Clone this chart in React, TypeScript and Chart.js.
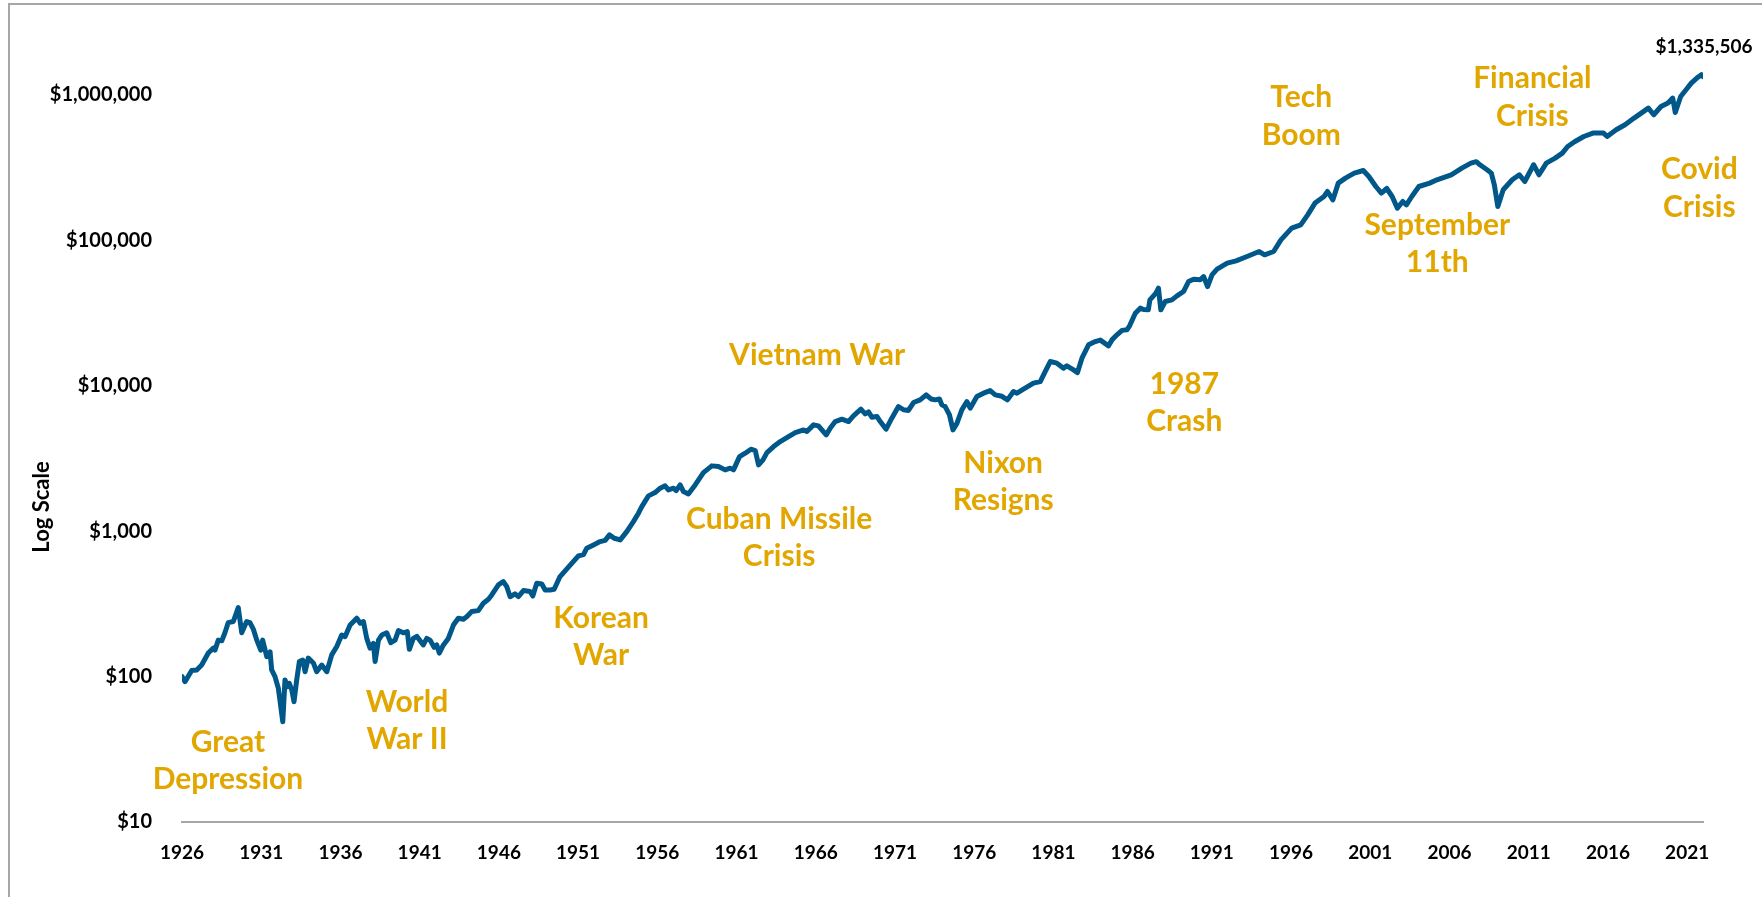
import React, { useEffect, useRef } from 'react';
import { Chart, registerables } from 'chart.js';

Chart.register(...registerables);

const years = [
  1926.00, 1926.19, 1926.61, 1926.93, 1927.24, 1927.66, 1927.98, 1928.08, 1928.29, 1928.51,
  1928.71, 1928.92, 1929.24, 1929.55, 1929.77, 1930.08, 1930.29, 1930.50, 1930.72, 1930.97,
  1931.09, 1931.35, 1931.56, 1931.66, 1931.87, 1932.08, 1932.36, 1932.50, 1932.65, 1932.77,
  1932.93, 1933.07, 1933.24, 1933.41, 1933.62, 1933.77, 1933.97, 1934.29, 1934.50, 1934.82,
  1935.14, 1935.45, 1935.77, 1936.08, 1936.29, 1936.61, 1937.03, 1937.24, 1937.45, 1937.66,
  1937.87, 1938.08, 1938.19, 1938.40, 1938.61, 1938.92, 1939.18, 1939.45, 1939.66, 1939.97,
  1940.22, 1940.35, 1940.60, 1940.82, 1941.23, 1941.45, 1941.66, 1941.91, 1942.08, 1942.24,
  1942.50, 1942.81, 1943.13, 1943.44, 1943.76, 1943.97, 1944.29, 1944.70, 1945.02, 1945.34,
  1945.55, 1945.97, 1946.28, 1946.50, 1946.71, 1947.02, 1947.23, 1947.55, 1947.97, 1948.14,
  1948.39, 1948.71, 1948.92, 1949.23, 1949.49, 1949.86, 1950.39, 1951.02, 1951.34, 1951.55,
  1951.97, 1952.39, 1952.71, 1952.98, 1953.28, 1953.66, 1954.07, 1954.49, 1954.81, 1955.02,
  1955.44, 1955.86, 1956.18, 1956.49, 1956.70, 1957.02, 1957.19, 1957.44, 1957.65, 1957.96,
  1958.39, 1958.91, 1959.44, 1959.86, 1960.28, 1960.60, 1960.81, 1961.19, 1961.55, 1961.91,
  1962.18, 1962.39, 1962.67, 1962.92, 1963.34, 1963.76, 1964.28, 1964.71, 1965.23, 1965.44,
  1965.86, 1966.17, 1966.66, 1966.91, 1967.23, 1967.65, 1968.07, 1968.38, 1968.85, 1969.12,
  1969.33, 1969.54, 1969.86, 1970.07, 1970.44, 1970.80, 1971.22, 1971.54, 1971.85, 1972.17,
  1972.59, 1972.97, 1973.27, 1973.54, 1973.81, 1973.96, 1974.17, 1974.44, 1974.66, 1974.91,
  1975.22, 1975.54, 1975.75, 1976.17, 1976.59, 1977.01, 1977.33, 1977.75, 1978.10, 1978.48,
  1978.70, 1979.11, 1979.74, 1980.17, 1980.48, 1980.80, 1981.22, 1981.64, 1981.85, 1982.27,
  1982.52, 1982.80, 1983.22, 1983.64, 1983.96, 1984.48, 1984.71, 1985.01, 1985.33, 1985.64,
  1985.81, 1986.17, 1986.48, 1986.69, 1986.99, 1987.09, 1987.47, 1987.63, 1987.78, 1988.06,
  1988.48, 1988.80, 1989.21, 1989.53, 1989.85, 1990.27, 1990.48, 1990.73, 1991.01, 1991.33,
  1991.97, 1992.53, 1993.22, 1993.99, 1994.33, 1994.90, 1995.36, 1996.04, 1996.61, 1997.05,
  1997.51, 1998.08, 1998.30, 1998.64, 1998.98, 1999.43, 1999.99, 2000.56, 2000.91, 2001.35,
  2001.70, 2002.04, 2002.38, 2002.71, 2003.05, 2003.28, 2003.62, 2004.07, 2004.75, 2005.21,
  2006.11, 2006.78, 2007.35, 2007.69, 2007.92, 2008.37, 2008.64, 2008.83, 2009.05, 2009.39,
  2009.96, 2010.41, 2010.75, 2011.31, 2011.65, 2012.11, 2012.67, 2013.12, 2013.46, 2013.92,
  2014.48, 2015.05, 2015.72, 2015.95, 2016.52, 2017.08, 2017.65, 2018.10, 2018.55, 2018.89,
  2019.35, 2019.79, 2020.09, 2020.25, 2020.59, 2020.93, 2021.26, 2021.61, 2021.90, 2022.00,
];

const values = [
  100, 92.2, 110, 111, 120, 145, 157, 152, 178, 176,
  200, 235, 239, 298, 200, 239, 235, 212, 178, 152,
  178, 137, 148, 111, 99.8, 83.1, 48.9, 94.8, 85.2, 89.9,
  80.9, 67.2, 94.8, 127, 130, 108, 134, 124, 108, 120,
  108, 141, 161, 193, 188, 226, 252, 233, 239, 183,
  157, 169, 127, 178, 193, 200, 171, 178, 207, 200,
  204, 154, 183, 189, 165, 183, 178, 159, 165, 145,
  165, 183, 226, 252, 248, 258, 280, 284, 319, 340,
  364, 427, 450, 415, 354, 370, 354, 390, 384, 358,
  438, 433, 394, 394, 398, 487, 565, 675, 690, 763,
  804, 847, 864, 942, 893, 870, 992, 1162, 1328, 1474,
  1747, 1840, 1972, 2047, 1920, 1972, 1900, 2078, 1869, 1802,
  2078, 2526, 2809, 2780, 2636, 2710, 2636, 3253, 3434, 3659,
  3580, 2853, 3090, 3467, 3813, 4126, 4466, 4758, 4966, 4840,
  5377, 5290, 4588, 5103, 5665, 5884, 5665, 6199, 6892, 6400,
  6600, 6073, 6140, 5665, 5021, 5978, 7183, 6830, 6760, 7654,
  7988, 8645, 8100, 7988, 8100, 7379, 7183, 6298, 4966, 5500,
  6818, 7775, 7000, 8414, 8880, 9254, 8645, 8450, 7988, 9108,
  8880, 9461, 10404, 10660, 12502, 14652, 14280, 13196, 13700, 12844,
  12300, 15458, 19082, 20111, 20580, 18780, 20730, 22360, 24000, 24200,
  25800, 31520, 34120, 33400, 33210, 38910, 43270, 46840, 33210, 37880,
  38910, 41460, 44390, 52000, 54000, 53500, 56280, 48030, 57810, 63270,
  69570, 72200, 77240, 83620, 79350, 83620, 100600, 121100, 127600, 149500,
  180000, 199800, 216300, 189700, 247000, 267400, 289400, 301600, 274200, 234100,
  210800, 226800, 199800, 166300, 184600, 175200, 199800, 234100, 247000, 260300,
  281800, 313200, 339100, 347000, 330100, 305000, 289400, 240400, 170500, 222200,
  260300, 281800, 253400, 330100, 281800, 339100, 367100, 397200, 441000, 477200,
  516700, 545300, 545300, 516700, 574600, 621900, 691500, 748400, 810100, 728800,
  830900, 876900, 949100, 755600, 973400, 1082000, 1203000, 1303000, 1375000, 1335506,
];

const xTickYears = [
  1926, 1931, 1936, 1941, 1946, 1951, 1956, 1961, 1966, 1971,
  1976, 1981, 1986, 1991, 1996, 2001, 2006, 2011, 2016, 2021,
];

const yTickValues = [10, 100, 1000, 10000, 100000, 1000000];

const endLabel = '$1,335,506';
const axisTitle = 'Log Scale';

// annotation text blocks anchored in data coordinates (centre of the first line)
const eventLabels = [
  { lines: ['Great', 'Depression'], year: 1928.9, value: 35.5 },
  { lines: ['World', 'War II'], year: 1940.2, value: 66.9 },
  { lines: ['Korean', 'War'], year: 1952.45, value: 253 },
  { lines: ['Vietnam War'], year: 1966.09, value: 16290 },
  { lines: ['Cuban Missile', 'Crisis'], year: 1963.69, value: 1213 },
  { lines: ['Nixon', 'Resigns'], year: 1977.83, value: 2944 },
  { lines: ['1987', 'Crash'], year: 1989.26, value: 10290 },
  { lines: ['Tech', 'Boom'], year: 1996.64, value: 953600 },
  { lines: ['September', '11th'], year: 2005.23, value: 127600 },
  { lines: ['Financial', 'Crisis'], year: 2011.23, value: 1288000 },
  { lines: ['Covid', 'Crisis'], year: 2021.77, value: 305000 },
];

const FONT = 'Lato, "Open Sans", "DejaVu Sans", sans-serif';
const GOLD = '#E1A600';
const LINE_BLUE = '#00588A';
const FRAME_GRAY = '#A6A6A6';

const decorPlugin = {
  id: 'decor',
  beforeDraw(chart: any) {
    const ctx = chart.ctx;
    ctx.save();
    ctx.fillStyle = '#ffffff';
    ctx.fillRect(0, 0, chart.width, chart.height);
    ctx.strokeStyle = FRAME_GRAY;
    ctx.lineWidth = 2;
    ctx.beginPath();
    ctx.moveTo(9, chart.height + 5);
    ctx.lineTo(9, 4);
    ctx.lineTo(chart.width + 5, 4);
    ctx.stroke();
    ctx.restore();
  },
  afterDraw(chart: any) {
    const ctx = chart.ctx;
    const xs = chart.scales.x;
    const ys = chart.scales.y;
    ctx.save();
    // axis title
    ctx.translate(42, 507);
    ctx.rotate(-Math.PI / 2);
    ctx.fillStyle = '#000';
    ctx.font = `bold 22px ${FONT}`;
    ctx.textAlign = 'center';
    ctx.textBaseline = 'middle';
    ctx.fillText(axisTitle, 0, 0);
    ctx.restore();

    ctx.save();
    ctx.fillStyle = GOLD;
    ctx.font = `bold 30px ${FONT}`;
    ctx.textAlign = 'center';
    ctx.textBaseline = 'middle';
    const lh = 37.5;
    eventLabels.forEach((ev) => {
      const px = xs.getPixelForValue(ev.year);
      const py = ys.getPixelForValue(ev.value);
      ev.lines.forEach((t, i) => ctx.fillText(t, px, py + i * lh));
    });
    ctx.restore();

    // end value label
    const lastX = xs.getPixelForValue(years[years.length - 1]);
    const lastY = ys.getPixelForValue(values[values.length - 1]);
    ctx.save();
    ctx.fillStyle = '#000';
    ctx.font = `bold 19px ${FONT}`;
    ctx.textAlign = 'center';
    ctx.textBaseline = 'middle';
    ctx.fillText(endLabel, lastX + 1, lastY - 30);
    ctx.restore();
  },
};

export default function App() {
  const canvasRef = useRef<HTMLCanvasElement | null>(null);

  useEffect(() => {
    const canvas = canvasRef.current;
    if (!canvas) return;
    const chart = new Chart(canvas, {
      type: 'line',
      data: {
        datasets: [
          {
            data: years.map((y, i) => ({ x: y, y: values[i] })),
            borderColor: LINE_BLUE,
            borderWidth: 5,
            pointRadius: 0,
            tension: 0,
            borderJoinStyle: 'round',
            borderCapStyle: 'round',
            fill: false,
          },
        ],
      },
      options: {
        animation: false,
        responsive: false,
        maintainAspectRatio: false,
        devicePixelRatio: 1,
        layout: { padding: { top: 51, right: 59, left: 0, bottom: 0 } },
        plugins: {
          legend: { display: false },
          tooltip: { enabled: false },
          title: { display: false },
        },
        scales: {
          x: {
            type: 'linear',
            min: 1926,
            max: 2022,
            grid: { display: false },
            border: { display: true, color: FRAME_GRAY, width: 2 },
            ticks: {
              autoSkip: false,
              maxRotation: 0,
              minRotation: 0,
              padding: 11,
              color: '#000',
              font: { family: FONT, size: 19, weight: 'bold' },
              callback: (v: any) => String(v),
            },
            afterBuildTicks: (s: any) => {
              s.ticks = xTickYears.map((v) => ({ value: v }));
            },
            afterFit: (s: any) => {
              s.height = 75;
            },
          },
          y: {
            type: 'logarithmic',
            min: 10,
            max: 2000000,
            grid: { display: false },
            border: { display: false },
            ticks: {
              padding: 22,
              color: '#000',
              font: { family: FONT, size: 20, weight: 'bold' },
              callback: (v: any) => '$' + Number(v).toLocaleString('en-US'),
            },
            afterBuildTicks: (s: any) => {
              s.ticks = yTickValues.map((v) => ({ value: v }));
            },
            afterFit: (s: any) => {
              s.width = 182;
            },
          },
        },
      } as any,
      plugins: [decorPlugin],
    });
    return () => chart.destroy();
  }, []);

  return (
    <div style={{ position: 'absolute', left: 0, top: 0, width: 1762, height: 897, overflow: 'hidden', background: '#fff' }}>
      <canvas ref={canvasRef} width={1762} height={897} style={{ display: 'block', width: 1762, height: 897 }} />
    </div>
  );
}
